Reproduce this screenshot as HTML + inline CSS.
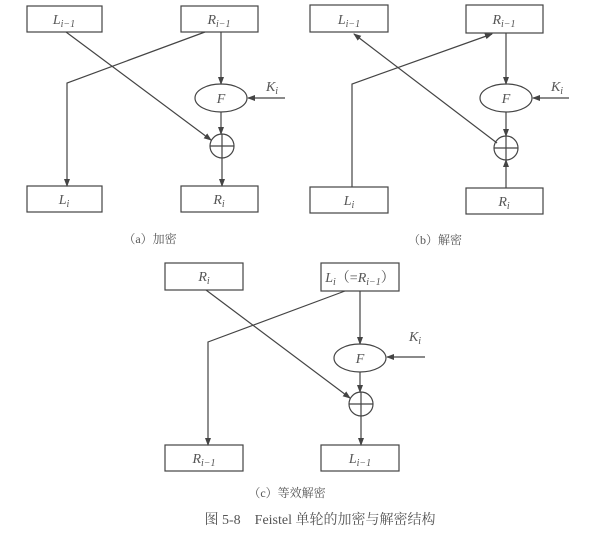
<!DOCTYPE html><html><head><meta charset="utf-8"><style>body{margin:0;background:#fff}svg{display:block}</style></head><body>
<svg width="595" height="550" xmlns="http://www.w3.org/2000/svg" font-family="Liberation Serif, Noto Serif CJK SC, serif">
<defs><marker id="a" markerWidth="8" markerHeight="8" refX="7" refY="4" orient="auto" markerUnits="userSpaceOnUse"><path d="M0,1 L8,4 L0,7z" fill="#444"/></marker></defs>
<g stroke="#444" stroke-width="1.2" fill="none">
<!-- a -->
<rect x="27" y="6" width="75" height="26"/><rect x="181" y="6" width="77" height="26"/>
<rect x="27" y="186" width="75" height="26"/><rect x="181" y="186" width="77" height="26"/>
<ellipse cx="221" cy="98" rx="26" ry="14"/><circle cx="222" cy="146" r="12"/>
<path d="M210,146h24M222,134v24"/>
<path d="M221,32V84" marker-end="url(#a)"/><path d="M221,112V134" marker-end="url(#a)"/><path d="M222,158V186" marker-end="url(#a)"/>
<path d="M285,98H248" marker-end="url(#a)"/>
<path d="M66,32L211,140" marker-end="url(#a)"/>
<path d="M205,32L67,83V186" marker-end="url(#a)"/>
<!-- b -->
<rect x="310" y="5" width="78" height="27"/><rect x="466" y="5" width="77" height="28"/>
<rect x="310" y="187" width="78" height="26"/><rect x="466" y="188" width="77" height="26"/>
<ellipse cx="506" cy="98" rx="26" ry="14"/><circle cx="506" cy="148" r="12"/>
<path d="M494,148h24M506,136v24"/>
<path d="M506,33V84" marker-end="url(#a)"/><path d="M506,112V136" marker-end="url(#a)"/><path d="M506,188V160" marker-end="url(#a)"/>
<path d="M569,98H533" marker-end="url(#a)"/>
<path d="M352,187V84L492,34" marker-end="url(#a)"/>
<path d="M497,143L354,34" marker-end="url(#a)"/>
<!-- c -->
<rect x="165" y="263" width="78" height="27"/><rect x="321" y="263" width="78" height="28"/>
<rect x="165" y="445" width="78" height="26"/><rect x="321" y="445" width="78" height="26"/>
<ellipse cx="360" cy="358" rx="26" ry="14"/><circle cx="361" cy="404" r="12"/>
<path d="M349,404h24M361,392v24"/>
<path d="M360,291V344" marker-end="url(#a)"/><path d="M360,372V392" marker-end="url(#a)"/><path d="M361,416V445" marker-end="url(#a)"/>
<path d="M425,357H387" marker-end="url(#a)"/>
<path d="M206,290L350,398" marker-end="url(#a)"/>
<path d="M345,291L208,342V445" marker-end="url(#a)"/>
</g>
<g fill="#555" font-style="italic" font-size="14" text-anchor="middle">
<text x="64" y="24">L<tspan font-size="10" dy="3">i−1</tspan></text>
<text x="219" y="24">R<tspan font-size="10" dy="3">i−1</tspan></text>
<text x="64" y="204">L<tspan font-size="10" dy="3">i</tspan></text>
<text x="219" y="204">R<tspan font-size="10" dy="3">i</tspan></text>
<text x="221" y="103">F</text><text x="272" y="91">K<tspan font-size="10" dy="3">i</tspan></text>
<text x="349" y="24">L<tspan font-size="10" dy="3">i−1</tspan></text>
<text x="504" y="24">R<tspan font-size="10" dy="3">i−1</tspan></text>
<text x="349" y="205">L<tspan font-size="10" dy="3">i</tspan></text>
<text x="504" y="206">R<tspan font-size="10" dy="3">i</tspan></text>
<text x="506" y="103">F</text><text x="557" y="91">K<tspan font-size="10" dy="3">i</tspan></text>
<text x="204" y="281">R<tspan font-size="10" dy="3">i</tspan></text>
<text x="360" y="282">L<tspan font-size="10" dy="3">i</tspan><tspan font-style="normal" dy="-3">（=</tspan>R<tspan font-size="10" dy="3">i−1</tspan><tspan font-style="normal" dy="-3">）</tspan></text>
<text x="204" y="463">R<tspan font-size="10" dy="3">i−1</tspan></text>
<text x="360" y="463">L<tspan font-size="10" dy="3">i−1</tspan></text>
<text x="360" y="363">F</text><text x="415" y="341">K<tspan font-size="10" dy="3">i</tspan></text>
</g>
<g fill="#555" font-size="12" text-anchor="middle">
<text x="150" y="243">（a）加密</text>
<text x="435" y="244">（b）解密</text>
<text x="287" y="497">（c）等效解密</text>
<text x="320" y="524" font-size="14">图 5-8　Feistel 单轮的加密与解密结构</text>
</g>
</svg></body></html>
